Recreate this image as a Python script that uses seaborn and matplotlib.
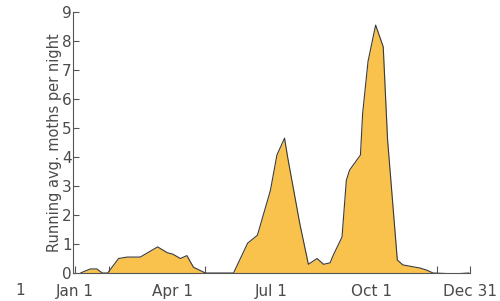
import matplotlib
matplotlib.use("Agg")
import matplotlib.pyplot as plt
import seaborn as sns
import pandas as pd

# day of year (Jan 1 = 0) and running average moths per night
days = [5, 8, 14, 20, 25, 30, 40, 48, 60, 76, 85, 90, 97, 103, 109, 120,
        146, 159, 168, 180, 186, 193, 196, 207, 215, 223, 229, 235, 238,
        246, 250, 253, 263, 265, 270, 277, 284, 288, 297, 302, 318, 324,
        330, 350, 363]
moths = [0, 0.05, 0.14, 0.14, 0, 0, 0.5, 0.55, 0.55, 0.9, 0.7, 0.65, 0.5,
         0.6, 0.2, 0, 0, 1.03, 1.3, 2.85, 4.07, 4.65, 3.97, 1.72, 0.3, 0.5,
         0.3, 0.35, 0.62, 1.24, 3.2, 3.55, 4.07, 5.5, 7.3, 8.55, 7.8, 4.6,
         0.45, 0.28, 0.17, 0.1, 0, -0.03, 0]

tick_days = [0, 90, 181, 273, 364]
tick_labels = ["Jan 1", "Apr 1", "Jul 1", "Oct 1", "Dec 31"]
month_days = [31, 59, 120, 151, 212, 243, 304, 334]

df = pd.DataFrame({"day": days, "moths": moths})

sns.set_style("white")
plt.rcParams["font.family"] = ["DejaVu Sans"]
text_col = "#4a4a4a"

fig = plt.figure(figsize=(5.0, 3.01), dpi=100)
ax = fig.add_axes([0.146, 0.093, 0.794, 0.867])

ax.fill_between(df["day"], df["moths"], 0, color="#f8c24c", lw=0)
sns.lineplot(data=df, x="day", y="moths", ax=ax, color="#3a3a3a", lw=0.8)

ax.set_xlim(-2, 364)
ax.set_ylim(0, 9)
ax.set_xticks(tick_days)
ax.set_xticklabels(tick_labels, fontsize=11, color=text_col)
ax.set_xticks(month_days, minor=True)
ax.set_yticks(range(0, 10))
ax.tick_params(axis="y", labelsize=11, labelcolor=text_col, direction="in",
               length=4, width=0.8, color="#555555", pad=1, left=True)
ax.tick_params(axis="x", which="both", direction="in", length=5, width=0.8,
               color="#555555", pad=8, bottom=True)

ax.set_xlabel("")
ax.set_ylabel("Running avg. moths per night", fontsize=10.5, color=text_col,
              labelpad=0)

for s in ["top", "right"]:
    ax.spines[s].set_visible(False)
for s in ["left", "bottom"]:
    ax.spines[s].set_color("#555555")
    ax.spines[s].set_linewidth(0.8)

fig.text(0.03, 0.02, "1", fontsize=11, color=text_col)

fig.savefig("out.png", dpi=100, facecolor="white")
